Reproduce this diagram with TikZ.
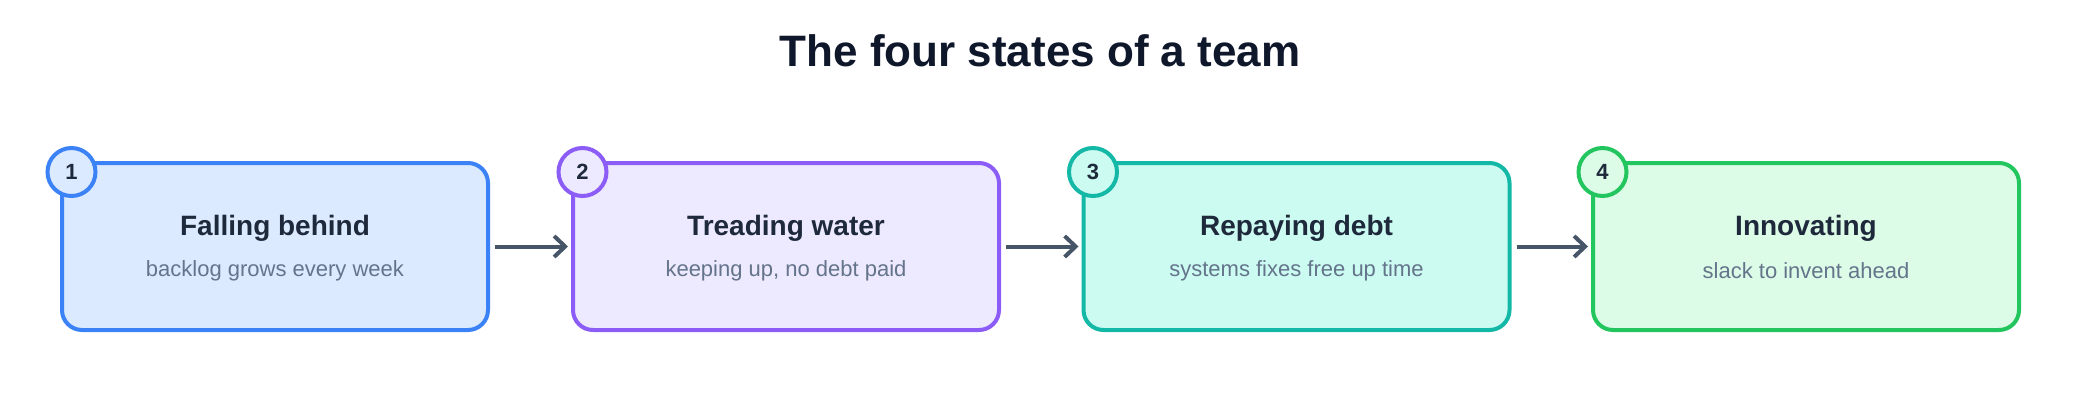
\documentclass[tikz,border=0pt]{standalone}
\usepackage{fontspec}
\setmainfont{Liberation Sans}
\usetikzlibrary{arrows.meta,calc}
\definecolor{titlec}{HTML}{0F172A}
\definecolor{headc}{HTML}{1E293B}
\definecolor{subc}{HTML}{64748B}
\definecolor{arrc}{HTML}{475569}
\definecolor{sA}{HTML}{3B82F6}\definecolor{fA}{HTML}{DBEAFE}
\definecolor{sB}{HTML}{8B5CF6}\definecolor{fB}{HTML}{EDE9FE}
\definecolor{sC}{HTML}{14B8A6}\definecolor{fC}{HTML}{CCFBF1}
\definecolor{sD}{HTML}{22C55E}\definecolor{fD}{HTML}{DCFCE7}
\tikzset{
  statebox/.style={draw, line width=4pt, rounded corners=20pt, minimum width=426pt, minimum height=167pt, inner sep=0pt},
  numcirc/.style={circle, draw, line width=4pt, minimum size=48pt, inner sep=0pt, font=\bfseries\fontsize{22}{24}\selectfont, text=headc},
  headtxt/.style={font=\bfseries\fontsize{28}{32}\selectfont, text=headc, inner sep=0pt},
  subtxt/.style={font=\fontsize{22}{26}\selectfont, text=subc, inner sep=0pt},
  flow/.style={draw=arrc, line width=4pt, -{Straight Barb[length=11pt,width=21pt,line width=4pt]}, shorten <=5pt, shorten >=3pt}
}
\begin{document}
\begin{tikzpicture}[x=1pt,y=-1pt]
\useasboundingbox (0,0) rectangle (2080,420);
\node[font=\bfseries\fontsize{44}{50}\selectfont, text=titlec] (title) at (1040,51) {The four states of a team};
\node[statebox, draw=sA, fill=fA] (b1) at (275,246.5) {};
\node[statebox, draw=sB, fill=fB] (b2) at (786,246.5) {};
\node[statebox, draw=sC, fill=fC] (b3) at (1296.5,246.5) {};
\node[statebox, draw=sD, fill=fD] (b4) at (1806,246.5) {};
\node[numcirc, draw=sA, fill=fA] (n1) at (71.5,172) {1};
\node[numcirc, draw=sB, fill=fB] (n2) at (582.5,172) {2};
\node[numcirc, draw=sC, fill=fC] (n3) at (1093,172) {3};
\node[numcirc, draw=sD, fill=fD] (n4) at (1602.5,172) {4};
\node[headtxt] (h1) at (275,228) {Falling behind};
\node[headtxt] (h2) at (786,228) {Treading water};
\node[headtxt] (h3) at (1296.5,228) {Repaying debt};
\node[headtxt] (h4) at (1806,228) {Innovating};
\node[subtxt] (s1) at (275,271) {backlog grows every week};
\node[subtxt] (s2) at (786,271) {keeping up, no debt paid};
\node[subtxt] (s3) at (1296.5,271) {systems fixes free up time};
\node[subtxt] (s4) at (1806,271) {slack to invent ahead};
\draw[flow] (b1.east) -- (b2.west);
\draw[flow] (b2.east) -- (b3.west);
\draw[flow] (b3.east) -- (b4.west);
\end{tikzpicture}
\end{document}
